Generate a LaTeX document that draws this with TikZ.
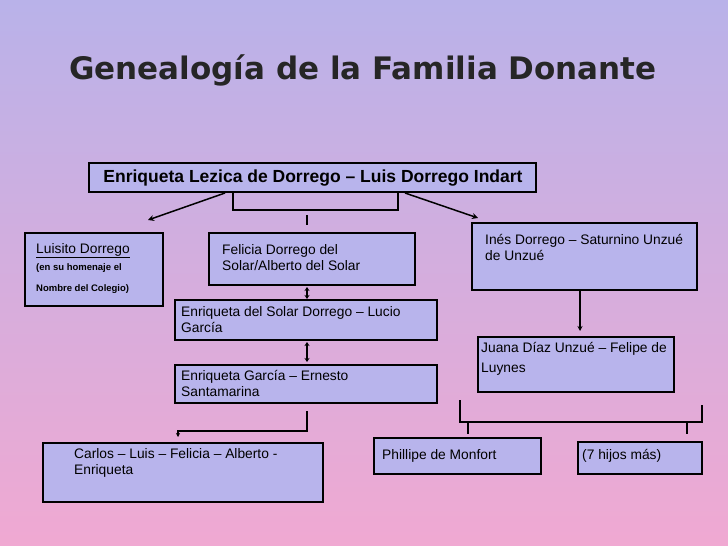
\documentclass[tikz,border=0pt]{standalone}
\usepackage{fontspec}
\setmainfont{Liberation Sans}
\newfontfamily\titlefont{DejaVu Sans}
\usetikzlibrary{arrows.meta}
\definecolor{bgtop}{HTML}{B9B2E9}
\definecolor{bgbot}{HTML}{F0A9D2}
\definecolor{boxfill}{HTML}{B8B4EC}
\begin{document}
\begin{tikzpicture}[x=1pt,y=-1pt,
  bx/.style={draw=black,line width=2pt,fill=boxfill},
  txt/.style={anchor=north west,inner sep=0pt,align=left,font=\fontsize{13.8}{16}\selectfont},
  ln/.style={line width=1.5pt},
  arr/.style={line width=1.5pt,-{Stealth[length=6pt,width=6pt]}}]
\shade[top color=bgtop,bottom color=bgbot] (0,0) rectangle (728,546);
\useasboundingbox (0,0) rectangle (728,546);
\node[font=\titlefont\bfseries\fontsize{31}{36}\selectfont,text=black!85] (title) at (363,70) {Genealogía de la Familia Donante};
% boxes
\draw[bx,line width=2.5pt] (89,163) rectangle (536,192);
\node[font=\bfseries\fontsize{17.5}{20}\selectfont,inner sep=0pt] (toptxt) at (313,178) {Enriqueta Lezica de Dorrego – Luis Dorrego Indart};
\draw[bx] (25,233) rectangle (163,306);
\node[txt] (lui) at (36,243) {\underline{Luisito Dorrego}\\[1pt]{\bfseries\fontsize{9.5}{11}\selectfont (en su homenaje el}\\[5pt]{\bfseries\fontsize{9.5}{11}\selectfont Nombre del Colegio)}};
\draw[bx] (209,233) rectangle (415,285);
\node[txt] (fel) at (222,244) {Felicia Dorrego del\\Solar/Alberto del Solar};
\draw[bx,line width=2.5pt] (472,223) rectangle (697,290);
\node[txt] (ines) at (485,234) {Inés Dorrego – Saturnino Unzué\\de Unzué};
\draw[bx] (175,300) rectangle (437,340);
\node[txt] (eds) at (181,306) {Enriqueta del Solar Dorrego – Lucio\\García};
\draw[bx] (478,337) rectangle (674,392);
\node[txt] (jua) at (481,342) {Juana Díaz Unzué – Felipe de\\[4pt]Luynes};
\draw[bx] (175,365) rectangle (437,403);
\node[txt] (eg) at (181,370) {Enriqueta García – Ernesto\\Santamarina};
\draw[bx] (43,443) rectangle (323,502);
\node[txt] (car) at (74,448) {Carlos – Luis – Felicia – Alberto -\\Enriqueta};
\draw[bx] (374,438) rectangle (541,474);
\node[txt] (phi) at (382,449) {Phillipe de Monfort};
\draw[bx] (578,442) rectangle (702,474);
\node[txt] (hij) at (582,449) {(7 hijos más)};
% connectors
\coordinate (b1) at (233,193); \coordinate (b2) at (398,193);
\draw[ln] (b1) |- (315,210) -| (b2);
\draw[ln] (307,215) -- (307,225);
\coordinate (l0) at (225,193); \coordinate (l1) at (148,220);
\draw[arr] (l0) -- (l1);
\coordinate (r0) at (405,193); \coordinate (r1) at (478,218);
\draw[arr] (r0) -- (r1);
\coordinate (d1) at (307,287); \coordinate (d2) at (307,299);
\draw[line width=1.5pt,{Stealth[length=4pt,width=5pt]}-{Stealth[length=4pt,width=5pt]}] (d1) -- (d2);
\coordinate (d3) at (307,342); \coordinate (d4) at (307,362);
\draw[line width=1.5pt,{Stealth[length=4pt,width=5pt]}-{Stealth[length=4pt,width=5pt]}] (d3) -- (d4);
\coordinate (c0) at (307,411); \coordinate (c1) at (178,437);
\draw[line width=1.2pt,-{Stealth[length=4pt,width=4pt]}] (c0) |- (178,431) -- (c1);
\coordinate (i0) at (580,291); \coordinate (i1) at (580,331);
\draw[line width=1.2pt,-{Stealth[length=5pt,width=5pt]}] (i0) -- (i1);
\draw[ln] (460,400) |- (702,422) -- (702,405);
\draw[ln] (468,422) -- (468,434);
\draw[ln] (687,422) -- (687,434);
\end{tikzpicture}
\end{document}
